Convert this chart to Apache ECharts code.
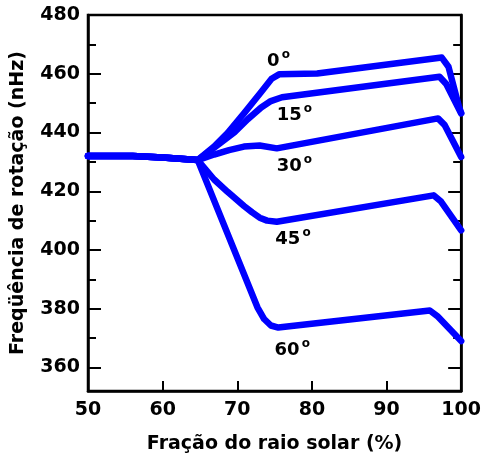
<!DOCTYPE html>
<html>
<head>
<meta charset="utf-8">
<script src="https://cdn.jsdelivr.net/npm/echarts@6/dist/echarts.min.js"></script>
<style>
  html, body { margin: 0; padding: 0; background: #fff; }
  #chart { width: 484px; height: 459px; }
</style>
</head>
<body>
<div id="chart"></div>
<script>
// common core, before the curves split apart
const coreX = [50, 56, 60, 64.7]
const coreY = [432, 432, 431.5, 430.6]

// one curve per latitude
const lat0X = [66.9, 68.7, 70.9, 73.2, 74.6, 75.6, 80.7, 97.4, 98.3, 99.7, 100]
const lat0Y = [435.2, 439.8, 446.5, 453.8, 458.3, 459.8, 460.1, 465.5, 462.4, 448.8, 446.7]
const lat15X = [67, 69.6, 71.4, 73.2, 74.5, 76, 97.1, 98, 100]
const lat15Y = [435, 440, 444.5, 448.5, 450.7, 452, 459, 456.5, 446.5]
const lat30X = [66.9, 68.9, 70.9, 73, 75.3, 96.9, 97.8, 100]
const lat30Y = [432.5, 434, 435.2, 435.6, 434.6, 444.8, 442.5, 431.7]
const lat45X = [66.9, 68.7, 70.9, 72, 73, 74, 75.3, 96.3, 97.3, 100]
const lat45Y = [424, 419.8, 415, 412.8, 411, 410, 409.6, 418.6, 416.5, 406.7]
const lat60X = [72.7, 73.6, 74.5, 75.5, 95.8, 96.8, 100]
const lat60Y = [380.5, 376.5, 374.3, 373.6, 379.4, 377.5, 369]

// curve labels (degrees of latitude)
const labelText = ['0', '15', '30', '45', '60']
const labelX = [74, 75.3, 75.3, 75.1, 75]
const labelY = [464.2, 446, 428.5, 403.5, 365.9]

const yMajor = [360, 380, 400, 420, 440, 460, 480]
const yMinor = [370, 390, 410, 430, 450, 470]

const curves = [
  [lat0X, lat0Y],
  [lat15X, lat15Y],
  [lat30X, lat30Y],
  [lat45X, lat45Y],
  [lat60X, lat60Y]
]

const pairs = (xs, ys) => xs.map((x, i) => [x, ys[i]])

const font = 'DejaVu Sans'

const yAxisBase = (pos, ticks, len, showLine, showLabel) => ({
  type: 'value',
  position: pos,
  min: 352,
  max: 480,
  axisLine: { show: showLine, lineStyle: { color: '#000', width: 2.5 } },
  axisTick: { show: true, inside: true, length: len, customValues: ticks, lineStyle: { color: '#000', width: 2 } },
  axisLabel: {
    show: showLabel,
    customValues: ticks,
    margin: 8,
    color: '#000',
    fontFamily: font,
    fontWeight: 'bold',
    fontSize: 19
  },
  splitLine: { show: false }
})

const chart = echarts.init(document.getElementById('chart'))

const left = yAxisBase('left', yMajor, 13, true, true)
left.name = 'Freqüência de rotação (nHz)'
left.nameLocation = 'middle'
left.nameGap = 60
left.nameTextStyle = { color: '#000', fontFamily: font, fontWeight: 'bold', fontSize: 19 }

const option = {
  animation: false,
  grid: {
    left: 88, right: 21, top: 15, bottom: 68,
    show: true, borderColor: '#000', borderWidth: 2.5
  },
  xAxis: {
    type: 'value',
    min: 50,
    max: 100,
    interval: 10,
    name: 'Fração do raio solar (%)',
    nameLocation: 'middle',
    nameGap: 44,
    nameTextStyle: { color: '#000', fontFamily: font, fontWeight: 'bold', fontSize: 19 },
    axisLine: { lineStyle: { color: '#000', width: 2.5 } },
    axisTick: { inside: true, length: 10, lineStyle: { color: '#000', width: 2 } },
    axisLabel: { margin: 10, color: '#000', fontFamily: font, fontWeight: 'bold', fontSize: 19 },
    splitLine: { show: false }
  },
  yAxis: [
    left,
    yAxisBase('right', yMajor, 13, true, false),
    yAxisBase('left', yMinor, 8, false, false),
    yAxisBase('right', yMinor, 8, false, false)
  ],
  series: [
    ...curves.map(([xs, ys], i) => ({
      name: labelText[i],
      type: 'line',
      showSymbol: false,
      symbol: 'none',
      data: pairs(coreX, coreY).concat(pairs(xs, ys)),
      lineStyle: { color: '#0000ff', width: 6.5, cap: 'round', join: 'round' },
      z: 2
    })),
    {
      type: 'scatter',
      symbolSize: 0,
      silent: true,
      itemStyle: { opacity: 1 },
      data: labelX.map((x, i) => ({ value: [x, labelY[i]], name: labelText[i] })),
      label: {
        show: true,
        position: 'right',
        distance: 0,
        color: '#000',
        opacity: 1,
        formatter: '{d|{b}}{s|o}',
        rich: {
          d: { fontFamily: font, fontWeight: 'bold', fontSize: 18, lineHeight: 20, color: '#000' },
          s: { fontFamily: font, fontWeight: 'bold', fontSize: 12, lineHeight: 12, padding: [0, 0, 13, 2], color: '#000' }
        }
      },
      z: 3
    }
  ]
}

chart.setOption(option)
</script>
</body>
</html>
